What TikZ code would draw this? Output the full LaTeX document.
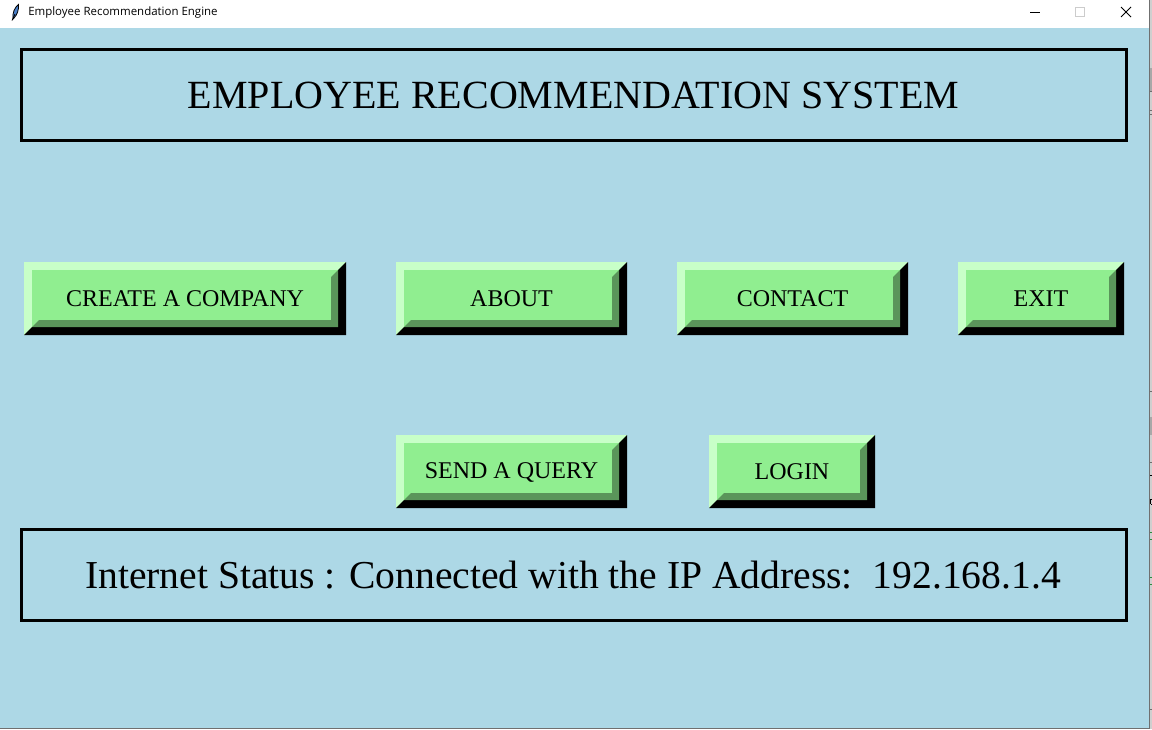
\documentclass[tikz,border=0pt]{standalone}
\usepackage{fontspec}
\setmainfont{Liberation Serif}
\newfontfamily\uifont{Open Sans}
\definecolor{bgblue}{HTML}{ADD8E6}
\definecolor{facegreen}{HTML}{90EE90}
\definecolor{lightbevel}{HTML}{C8FFC8}
\definecolor{darkbevel}{HTML}{5A955A}
\definecolor{edgegrey}{HTML}{707070}
\definecolor{stripgrey}{HTML}{CFCFCF}
\definecolor{stripband}{HTML}{A8A8A8}
\definecolor{stripline}{HTML}{6E6E6E}
\definecolor{stripgreen}{HTML}{2E8B3E}
\definecolor{featherblue}{HTML}{4A7FC8}
\tikzset{
  px/.style={x=0.75pt,y=-0.75pt},
  framebox/.style={draw=black,line width=2.25pt,inner sep=0pt},
  btntext/.style={font=\fontsize{18pt}{20pt}\selectfont,text=black,anchor=center},
  frametext/.style={text=black,anchor=center},
  stripmark/.style={line width=0.75pt},
}
% name, x0, y0, x1, y1, text
\newcommand{\mybutton}[6]{%
  \fill[lightbevel] (#2,#3) rectangle (#4,#5);
  \fill[black] (#4,#3) -- (#4,#5) -- (#2,#5) -- (#2+8,#5-8) -- (#4-8,#5-8) -- (#4-8,#3+8) -- cycle;
  \fill[facegreen] (#2+8,#3+8) rectangle (#4-8,#5-8);
  \fill[darkbevel] (#4-8,#3+8) -- (#4-8,#5-8) -- (#2+8,#5-8) -- (#2+15,#5-15) -- (#4-15,#5-15) -- (#4-15,#3+15) -- cycle;
  \node[btntext] (#1) at ({(#2+#4)/2},{(#3+#5)/2+0.5}) {#6};
}
\begin{document}
\begin{tikzpicture}[px]
\useasboundingbox (0,0) rectangle (1152,729);
\fill[white] (0,0) rectangle (1152,729);
\fill[bgblue] (0,28) rectangle (1149,727.5);
\fill[white] (0,0) rectangle (1149,28);
% strip of what lies beyond the window
\fill[stripgrey] (1150,0) rectangle (1152,729);
\fill[stripband] (1150,68) rectangle (1152,91);
\fill[stripband] (1150,417) rectangle (1152,435);
\draw[stripmark,stripline] (1150,91) -- (1152,91) (1150,110) -- (1152,110) (1150,114) -- (1152,114)
  (1150,391) -- (1152,391) (1150,462) -- (1152,462) (1150,709) -- (1152,709);
\draw[stripmark,black] (1150,475) -- (1152,475) (1151,499) -- (1152,499) (1150.5,499) -- (1150.5,504) (1151,504) -- (1152,504);
\draw[stripmark,stripgreen] (1150,532) -- (1152,532) (1150,539) -- (1152,539) (1150,577) -- (1152,577) (1150,584) -- (1152,584);
% window edges
\fill[edgegrey] (1149,0) rectangle (1150,729);
\fill[edgegrey] (0,727.5) rectangle (1150,729);
% title bar
\draw[black,line width=0.6pt,fill=featherblue] (13,19) .. controls (12,13) and (15,7) .. (18.5,4.5) .. controls (19,10) and (17,15) .. (14,18) -- cycle;
\draw[black,line width=0.6pt] (12,20.5) -- (15,14);
\node[font=\uifont\fontsize{8.6pt}{10pt}\selectfont,anchor=west,inner sep=0pt,text=black] (caption) at (28,13) {Employee Recommendation Engine};
\draw[black,line width=0.75pt] (1030,12.5) -- (1040,12.5);
\draw[black!20,line width=0.75pt] (1075.5,7.5) rectangle (1084.5,16.5);
\draw[black,line width=0.75pt] (1121,7) -- (1131,17) (1131,7) -- (1121,17);
% frames
\draw[framebox] (21.5,49.5) rectangle (1126.5,140.5);
\node[frametext,font=\fontsize{30pt}{32pt}\selectfont] (title) at (573.5,95) {EMPLOYEE RECOMMENDATION SYSTEM};
\draw[framebox] (21.5,529.5) rectangle (1126.5,620.5);
\node[frametext,font=\fontsize{29.7pt}{32pt}\selectfont] (status) at (573,575) {Internet Status : Connected with the IP Address:\ \ 192.168.1.4};
% buttons
\mybutton{create}{24}{262}{346}{335}{CREATE A COMPANY}
\mybutton{about}{396}{262}{627}{335}{ABOUT}
\mybutton{contact}{677}{262}{908}{335}{CONTACT}
\mybutton{exit}{958}{262}{1124}{335}{EXIT}
\mybutton{query}{396}{435}{627}{508}{SEND A QUERY}
\mybutton{login}{709}{435}{875}{508}{LOGIN}
\end{tikzpicture}
\end{document}
